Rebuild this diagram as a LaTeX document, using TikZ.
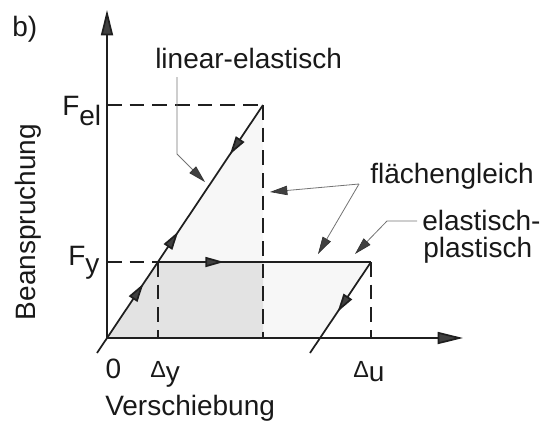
\documentclass[tikz,border=0pt]{standalone}
\usepackage{fontspec}
\setmainfont{Liberation Sans}
\usetikzlibrary{arrows.meta,decorations.markings}
\newcommand\lblfont{\fontsize{21}{24}\selectfont}
\newcommand\dsym{{\fontsize{17.5}{17.5}\selectfont Δ}}
\tikzset{midtip/.tip={Triangle[length=14pt,width=7.5pt,fill=black!75]}}
\begin{document}
\begin{tikzpicture}[x=0.75pt,y=-0.75pt,
  every node/.style={font=\lblfont, inner sep=0pt, text=black!90},
  ln/.style={line width=1.3pt, draw=black!88},
  dsh/.style={line width=1.3pt, draw=black!88, dash pattern=on 11pt off 6pt},
  axisline/.style={line width=1.3pt, draw=black!88, -{Triangle[length=19pt,width=9pt,fill=black!75]}},
  leader/.style={line width=0.6pt, draw=black!55, -{Triangle[length=13pt,width=7pt,fill=black!75,color=black!80,line width=0.5pt]}},
  darkfill/.style={fill=black!11},
  lightfill/.style={fill=black!3},
]
\useasboundingbox (0,0) rectangle (546,426);
% coordinates
\coordinate (O) at (107,338);
\coordinate (Ytop) at (107,10);
\coordinate (Xend) at (463,338);
\coordinate (Fel) at (263,105);
\coordinate (FelAx) at (107,105);
\coordinate (FelBase) at (263,338);
\coordinate (FelY) at (263,262);
\coordinate (Dy) at (158,262);
\coordinate (DyBase) at (158,338);
\coordinate (FyAx) at (107,262);
\coordinate (U) at (371,262);
\coordinate (UBase) at (371,338);
\coordinate (UCross) at (320,338);
\coordinate (Ulow) at (310,353);
\coordinate (Elow) at (97,353);
% fills
\path[lightfill] (Dy) -- (Fel) -- (FelY) -- cycle;
\path[lightfill] (FelY) -- (U) -- (UCross) -- (FelBase) -- cycle;
\path[darkfill] (O) -- (Dy) -- (FelY) -- (FelBase) -- cycle;
% dashed lines
\draw[dsh] (FelAx) -- (Fel);
\draw[dsh] (Fel) -- (FelBase);
\draw[dsh] (FyAx) -- (Dy);
\draw[dsh] (Dy) -- (DyBase);
\draw[dsh] (U) -- (UBase);
% axes
\draw[axisline] (O) -- (Ytop);
\draw[axisline] (O) -- (Xend);
% elastic line
\draw[ln, postaction={decorate}, decoration={markings,
    mark=at position 0.28 with {\arrow{midtip}},
    mark=at position 0.49 with {\arrow{midtip}},
    mark=at position 0.80 with {\arrowreversed{midtip}}}] (Elow) -- (Fel);
% plastic plateau
\draw[ln, postaction={decorate}, decoration={markings,
    mark=at position 0.31 with {\arrow{midtip}}}] (Dy) -- (U);
% unloading
\draw[ln, postaction={decorate}, decoration={markings,
    mark=at position 0.55 with {\arrow{midtip}}}] (U) -- (Ulow);
% labels
\node[anchor=base west] (b) at (12,36) {b)};
\node[anchor=base west] (tlin) at (155,68) {linear-elastisch};
\node[anchor=base west] (tfl) at (370,183) {flächengleich};
\node[anchor=base west] (tel) at (422,230) {elastisch-};
\node[anchor=base west] (tpl) at (423,257) {plastisch};
\node[anchor=base west] (tFel) at (62,115) {F\raisebox{-8pt}{el}};
\node[anchor=base west] (tFy) at (68,265) {F\raisebox{-6.5pt}{y}};
\node[anchor=base] (t0) at (113.5,378) {0};
\node[anchor=base west] (tDy) at (150,377) {\dsym\raisebox{-3.5pt}{y}};
\node[anchor=base west] (tDu) at (353,377) {\dsym\raisebox{-3.5pt}{u}};
\node[anchor=base west] (tV) at (105,415) {Verschiebung};
\node[anchor=base, rotate=90] (tB) at (35,222) {Beanspruchung};
% leaders
\coordinate (L1a) at (177,77);
\coordinate (L1b) at (177,154);
\coordinate (L1c) at (205,182);
\draw[leader] (L1a) -- (L1b) -- (L1c);
\coordinate (L2) at (359,184);
\coordinate (L2a) at (270,192);
\coordinate (L2b) at (318,254);
\draw[leader] (L2) -- (L2a);
\draw[leader] (L2) -- (L2b);
\coordinate (L3a) at (417,221);
\coordinate (L3b) at (387,221);
\coordinate (L3c) at (355,254);
\draw[leader] (L3a) -- (L3b) -- (L3c);
\end{tikzpicture}
\end{document}
